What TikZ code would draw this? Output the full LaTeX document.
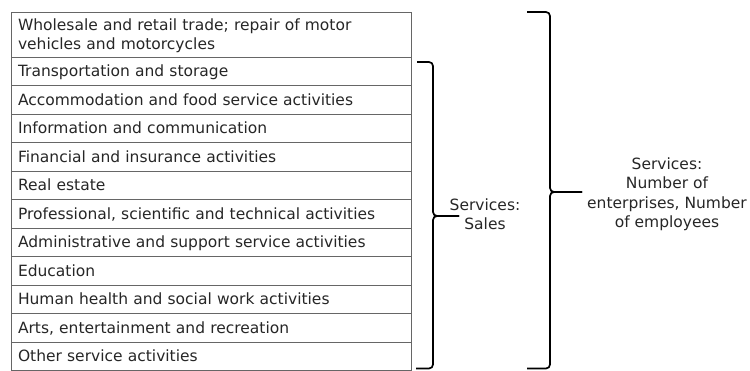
\documentclass[tikz,border=0pt]{standalone}
\usepackage{fontspec}
\setmainfont{DejaVu Sans}
\usetikzlibrary{positioning}

\tikzset{
    sector/.style={draw=black!60, line width=0.9pt, text=black!85, anchor=north west,
        text width=386pt, inner xsep=7pt, inner ysep=0pt, outer sep=0pt, align=left,
        minimum height=28.5pt, text height=13.5pt, text depth=2.5pt},
    bracket/.style={line width=1.7pt, rounded corners=4pt},
    bracelabel/.style={text=black!85, align=center, inner sep=0pt}
}

\begin{document}
\begin{tikzpicture}[x=1pt, y=1pt,
        every node/.style={font=\fontsize{15.5}{19.5}\selectfont}]
    \useasboundingbox (0,0) rectangle (750,-371);

    % Sector rows, top to bottom
    \node[sector, minimum height=45pt, text depth=21.5pt] (wholesale) at (11,-12) {Wholesale and retail trade; repair of motor\\vehicles and motorcycles};
    \node[sector] (transport) at (wholesale.south west) {Transportation and storage};
    \node[sector] (accommodation) at (transport.south west) {Accommodation and food service activities};
    \node[sector] (information) at (accommodation.south west) {Information and communication};
    \node[sector] (financial) at (information.south west) {Financial and insurance activities};
    \node[sector] (realestate) at (financial.south west) {Real estate};
    \node[sector] (professional) at (realestate.south west) {Professional, scientific and technical activities};
    \node[sector] (administrative) at (professional.south west) {Administrative and support service activities};
    \node[sector] (education) at (administrative.south west) {Education};
    \node[sector] (health) at (education.south west) {Human health and social work activities};
    \node[sector] (arts) at (health.south west) {Arts, entertainment and recreation};
    \node[sector] (other) at (arts.south west) {Other service activities};

    % Labels
    \node[bracelabel] (sales) at (485,-214) {Services:\\Sales};
    \node[bracelabel] (employees) at (667,-194) {Services:\\Number of\\enterprises, Number\\of employees};

    % Brace ends and tips
    \coordinate (salestop) at ([xshift=6pt,yshift=-5pt]transport.north east);
    \coordinate (salesbot) at ([xshift=5pt,yshift=2pt]other.south east);
    \coordinate (salesmid) at (433,-216);
    \coordinate (salestip) at (459,-216);
    \coordinate (alltop) at ([xshift=116pt]wholesale.north east);
    \coordinate (allbot) at ([xshift=116pt,yshift=2pt]other.south east);
    \coordinate (allmid) at (550,-192);
    \coordinate (alltip) at (582,-192);

    % Braces: each drawn as two halves meeting at the tip
    \draw[bracket] (salestop) -| (salesmid) -- (salestip);
    \draw[bracket] (salesbot) -| (salesmid) -- (salestip);
    \draw[bracket] (alltop) -| (allmid) -- (alltip);
    \draw[bracket] (allbot) -| (allmid) -- (alltip);
\end{tikzpicture}
\end{document}
